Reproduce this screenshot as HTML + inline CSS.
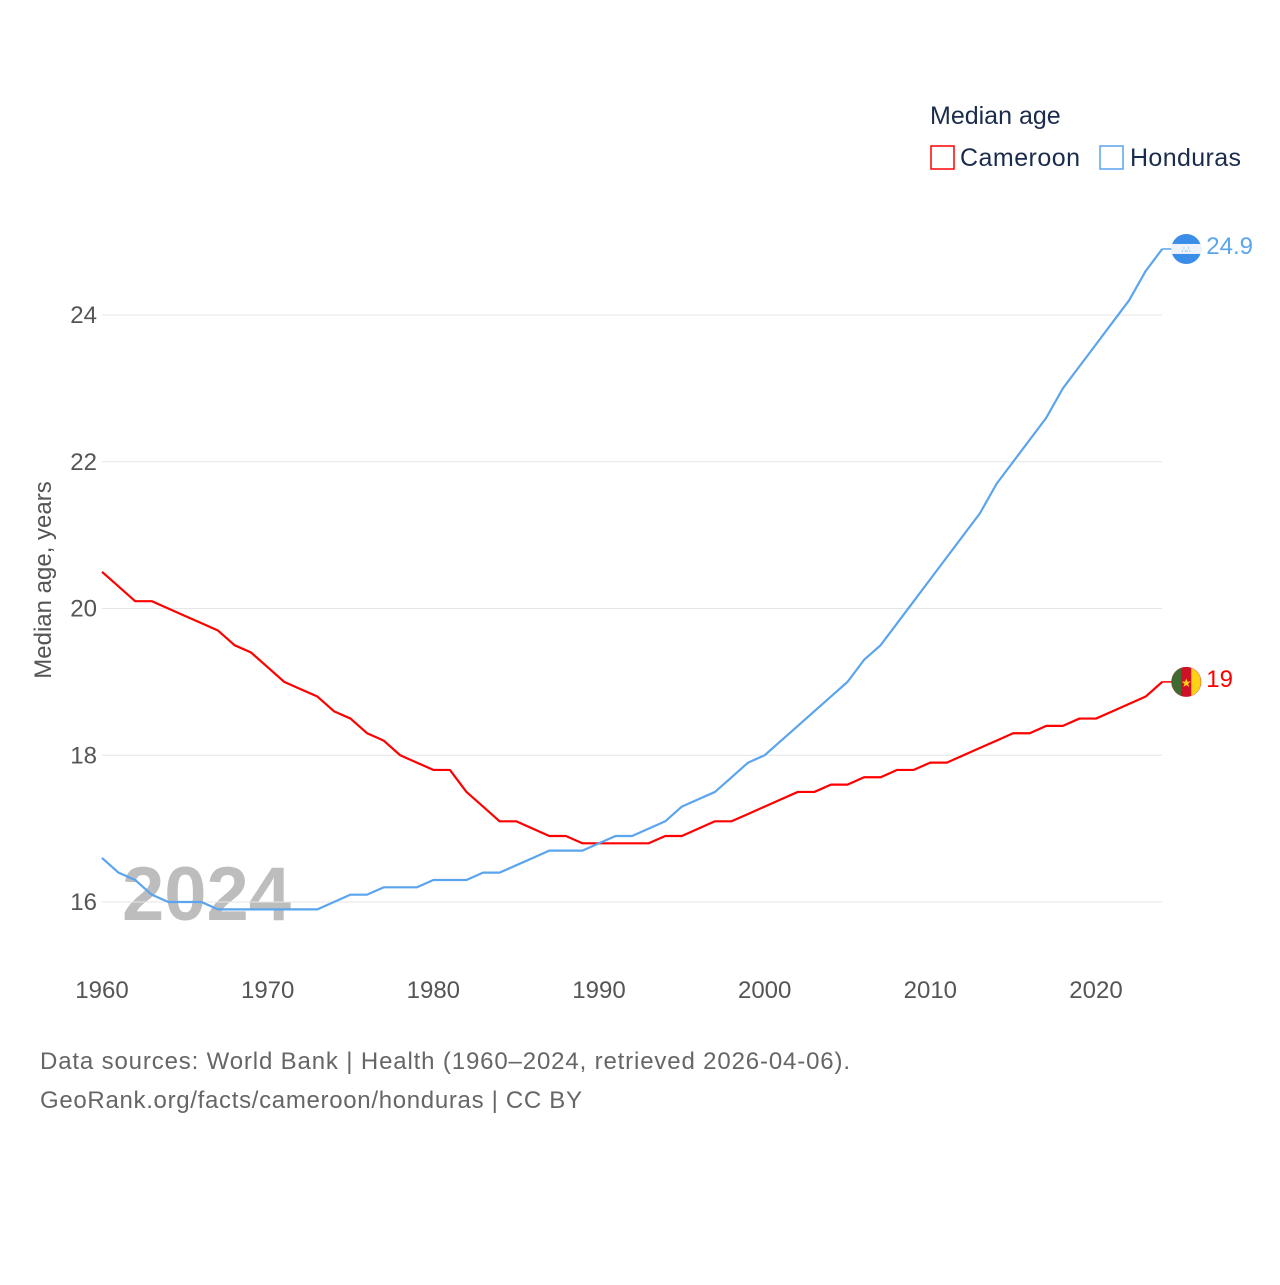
<!DOCTYPE html>
<html><head><meta charset="utf-8"><style>
body{margin:0;background:#fff;font-family:"Liberation Sans",sans-serif}
svg text{font-family:"Liberation Sans",sans-serif}
</style></head><body>
<svg id="c" width="1280" height="1280" viewBox="0 0 1280 1280">
<g>
<text x="930" y="124" font-size="25" fill="#1a2b4c">Median age</text>
<rect x="931" y="146" width="23" height="23" fill="none" stroke="#ff0000" stroke-width="1.5"/>
<text x="960" y="166" font-size="25" fill="#1a2b4c" textLength="120">Cameroon</text>
<rect x="1100" y="146" width="23" height="23" fill="none" stroke="#5ba4ee" stroke-width="1.5"/>
<text x="1130" y="166" font-size="25" fill="#1a2b4c" textLength="111">Honduras</text>
</g>
<text transform="translate(51,580) rotate(-90)" text-anchor="middle" font-size="24" fill="#555">Median age, years</text>
<text x="122" y="920" font-size="76" font-weight="bold" fill="#bdbdbd">2024</text>
<g id="grid"></g><g id="lines"></g><g id="ends"></g>
<text x="40" y="1069" font-size="24" fill="#666" textLength="810">Data sources: World Bank | Health (1960–2024, retrieved 2026-04-06).</text>
<text x="40" y="1108" font-size="24" fill="#666" textLength="542">GeoRank.org/facts/cameroon/honduras | CC BY</text>
</svg>
<script>
const years=[];for(let y=1960;y<=2024;y++)years.push(y);
const cameroon=[20.5,20.3,20.1,20.1,20.0,19.9,19.8,19.7,19.5,19.4,19.2,19.0,18.9,18.8,18.6,18.5,18.3,18.2,18.0,17.9,17.8,17.8,17.5,17.3,17.1,17.1,17.0,16.9,16.9,16.8,16.8,16.8,16.8,16.8,16.9,16.9,17.0,17.1,17.1,17.2,17.3,17.4,17.5,17.5,17.6,17.6,17.7,17.7,17.8,17.8,17.9,17.9,18.0,18.1,18.2,18.3,18.3,18.4,18.4,18.5,18.5,18.6,18.7,18.8,19.0];
const honduras=[16.6,16.4,16.3,16.1,16.0,16.0,16.0,15.9,15.9,15.9,15.9,15.9,15.9,15.9,16.0,16.1,16.1,16.2,16.2,16.2,16.3,16.3,16.3,16.4,16.4,16.5,16.6,16.7,16.7,16.7,16.8,16.9,16.9,17.0,17.1,17.3,17.4,17.5,17.7,17.9,18.0,18.2,18.4,18.6,18.8,19.0,19.3,19.5,19.8,20.1,20.4,20.7,21.0,21.3,21.7,22.0,22.3,22.6,23.0,23.3,23.6,23.9,24.2,24.6,24.9];
const yTicks=[16,18,20,22,24];
const xTicks=[1960,1970,1980,1990,2000,2010,2020];
const endLabels=["19","24.9"];
const NS="http://www.w3.org/2000/svg";
const X=v=>102+(v-1960)*(1096-102)/60;
const Y=v=>902-(v-16)*(902-315)/8;
function mk(t,a,p){const e=document.createElementNS(NS,t);for(const k in a)e.setAttribute(k,a[k]);p.appendChild(e);return e;}
const g=document.getElementById('grid');
yTicks.forEach(t=>{
 const l=mk('line',{x1:102,x2:1162,y1:Y(t),y2:Y(t),stroke:'#e6e6e6','stroke-width':1},g);
 
 
 const tx=mk('text',{x:97,y:Y(t)+8,'text-anchor':'end','font-size':24,fill:'#555'},g);tx.textContent=t;
 
 
});
xTicks.forEach(t=>{
 const tx=mk('text',{x:X(t),y:998,'text-anchor':'middle','font-size':24,fill:'#555'},g);tx.textContent=t;
 
 
});
const L=document.getElementById('lines');
[[cameroon,'#ff0000','cameroon'],[honduras,'#5ba4ee','honduras']].forEach(([d,c,n],i)=>{
 const pts=d.map((v,j)=>X(years[j])+','+Y(v)).join(' ');
 const p=mk('polyline',{points:pts,fill:'none',stroke:c,'stroke-width':2.2,'stroke-linejoin':'round'},L);
 
 
 const last=d[d.length-1],ex=X(years[years.length-1]),ey=Y(last);
 const E=document.getElementById('ends');
 mk('line',{x1:ex,x2:ex+10,y1:ey,y2:ey,stroke:c,'stroke-width':1.5},E);
 const f=mk('g',{},E);
 
 
 const cx=ex+24;
 if(n==='cameroon'){
  mk('circle',{cx:cx,cy:ey,r:15,fill:'#ce1126'},f);
  mk('path',{d:`M${cx-5},${ey-14} A15,15 0 0 0 ${cx-5},${ey+14} Z`,fill:'#3d6b30'},f);
  mk('path',{d:`M${cx+5},${ey-14} A15,15 0 0 1 ${cx+5},${ey+14} Z`,fill:'#fcd116'},f);
  const s=mk('text',{x:cx,y:ey+5,'text-anchor':'middle','font-size':12,fill:'#fcd116'},f);s.textContent='★';
 }else{
  mk('circle',{cx:cx,cy:ey,r:15,fill:'#3b8ee8'},f);
  mk('rect',{x:cx-15,y:ey-5,width:30,height:10,fill:'#eef3fa'},f);
  const s=mk('text',{x:cx,y:ey+3,'text-anchor':'middle','font-size':7,fill:'#3b8ee8'},f);s.textContent='∴∴';
 }
 const lb=mk('text',{x:ex+44,y:ey+5,'font-size':24,fill:c},E);lb.textContent=endLabels[i];
 
 
});
</script>
</body></html>
